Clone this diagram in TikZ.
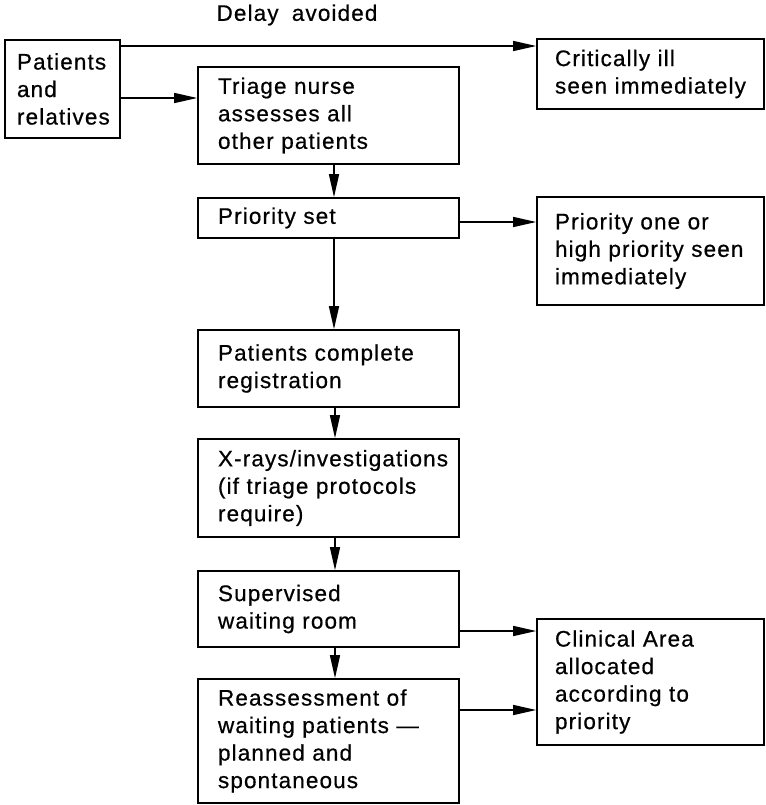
\documentclass[tikz,border=0pt]{standalone}
\usepackage{fontspec}
\setmainfont{Liberation Sans}[LetterSpace=5,WordSpace=1.8,FakeBold=0.6]
\usetikzlibrary{arrows.meta}
\begin{document}
\begin{tikzpicture}[x=1pt,y=-1pt,
  every node/.style={font=\fontsize{22.5}{27.5}\selectfont},
  box/.style={draw,line width=1.6pt,align=left,inner ysep=0pt,inner xsep=#1},
  box/.default=20pt,
  arr/.style={line width=1.4pt,-{Triangle[length=23pt,width=10pt]}}]
\useasboundingbox (0,0) rectangle (765,805);
% left / main column
\node[box=12pt,text width=91pt,minimum height=98pt] (pat) at (62.5,89) {Patients\\and\\relatives};
\node[box,text width=221pt,minimum height=97pt] (tri) at (328.5,115.5) {Triage nurse\\assesses all\\other patients};
\node[box,text width=221pt,minimum height=40pt] (ps) at (328.5,218) {Priority set};
\node[box,text width=221pt,minimum height=77pt] (reg) at (328.5,368.5) {Patients complete\\registration};
\node[box,text width=221pt,minimum height=98pt] (xr) at (328.5,488) {\mbox{X-rays/investigations}\\(if triage protocols\\require)};
\node[box,text width=221pt,minimum height=76pt] (sup) at (328.5,609) {Supervised\\waiting room};
\node[box,text width=221pt,minimum height=124pt] (rea) at (328.5,741) {Reassessment of\\waiting patients ---\\planned and\\spontaneous};
% right column
\node[box=18pt,text width=191pt,minimum height=70pt] (crit) at (650.5,74) {Critically ill\\seen immediately};
\node[box=18pt,text width=191pt,minimum height=108pt] (p1) at (650.5,251) {Priority one or\\high priority seen\\immediately};
\node[box=18pt,text width=191pt,minimum height=126pt] (cli) at (650.5,682) {Clinical Area\\allocated\\according to\\priority};
% label
\node (lab) at (297,15) {Delay avoided};
% connectors
\draw[arr] (pat.east |- 0,46) -- (crit.west |- 0,46);
\draw[arr] (pat.east |- 0,98) -- (tri.west |- 0,98);
\draw[arr] (tri.south -| 334,0) -- (ps.north -| 334,0);
\draw[arr] (ps.east |- 0,222) -- (p1.west |- 0,222);
\draw[arr] (ps.south -| 334,0) -- (reg.north -| 334,0);
\draw[arr] (reg.south -| 335,0) -- (xr.north -| 335,0);
\draw[arr] (xr.south -| 335,0) -- (sup.north -| 335,0);
\draw[arr] (sup.south -| 335,0) -- (rea.north -| 335,0);
\draw[arr] (sup.east |- 0,631) -- (cli.west |- 0,631);
\draw[arr] (rea.east |- 0,710) -- (cli.west |- 0,710);
\end{tikzpicture}
\end{document}
